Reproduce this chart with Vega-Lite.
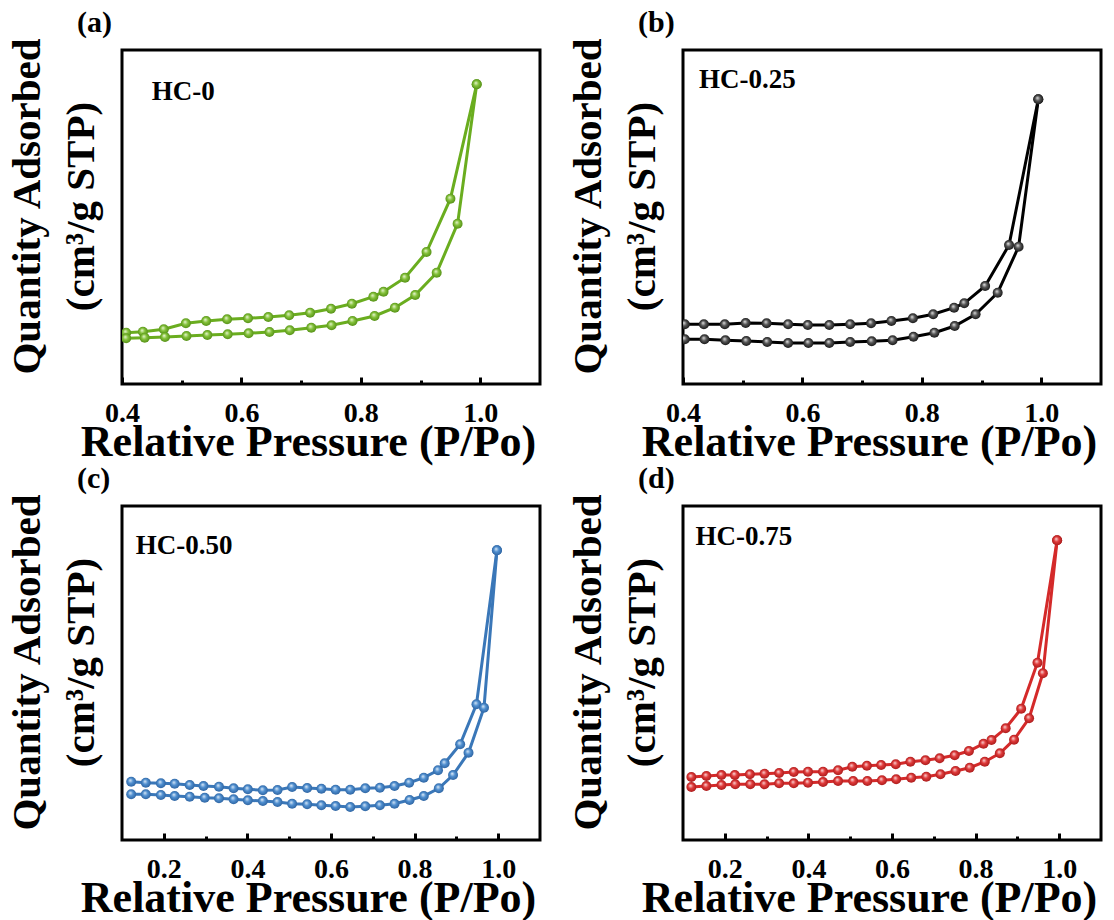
{
"$schema": "https://vega.github.io/schema/vega-lite/v6.json",
"padding": {"left": 4, "top": 6, "right": 5, "bottom": 5},
"background": "white",
"config": {
  "font": "Liberation Serif",
  "view": {"stroke": "black", "strokeWidth": 3},
  "axis": {"grid": false, "labelFont": "Liberation Serif", "titleFont": "Liberation Serif", "labelFontWeight": "bold", "titleFontWeight": "bold", "labelColor": "black", "titleColor": "black"},
  "axisX": {"tickWidth": 3, "tickColor": "black", "domain": false, "labelFontSize": 28, "labelPadding": 22, "labelFlush": false, "labelOverlap": false, "titleFontSize": 44, "titlePadding": -10, "titleX": 186, "labelExpr": "round(datum.value*10) % 2 === 0 ? format(datum.value, '.1f') : ''"},
  "axisY": {"labels": false, "ticks": false, "domain": false, "titleFontSize": 41, "titlePadding": 20, "titleLineHeight": 54, "titleY": 156},
  "title": {"font": "Liberation Serif", "fontWeight": "bold", "fontSize": 30, "anchor": "start", "frame": "group", "dx": -45, "offset": -1, "color": "black"}
},
"datasets": {
  "iso": [
    {"panel":"a","branch":"des","x":0.407,"y":51.3},{"panel":"a","branch":"des","x":0.435,"y":52.3},{"panel":"a","branch":"des","x":0.470,"y":54.7},{"panel":"a","branch":"des","x":0.507,"y":60.7},{"panel":"a","branch":"des","x":0.541,"y":63},{"panel":"a","branch":"des","x":0.576,"y":64.7},{"panel":"a","branch":"des","x":0.611,"y":65.7},{"panel":"a","branch":"des","x":0.645,"y":67},{"panel":"a","branch":"des","x":0.680,"y":68.7},{"panel":"a","branch":"des","x":0.715,"y":71.3},{"panel":"a","branch":"des","x":0.750,"y":75.3},{"panel":"a","branch":"des","x":0.785,"y":80.3},{"panel":"a","branch":"des","x":0.821,"y":87.3},{"panel":"a","branch":"des","x":0.838,"y":92.3},{"panel":"a","branch":"des","x":0.874,"y":106.3},{"panel":"a","branch":"des","x":0.910,"y":132},{"panel":"a","branch":"des","x":0.950,"y":185.3},{"panel":"a","branch":"des","x":0.994,"y":299.7},
    {"panel":"a","branch":"ads","x":0.407,"y":45.7},{"panel":"a","branch":"ads","x":0.438,"y":46.3},{"panel":"a","branch":"ads","x":0.472,"y":47},{"panel":"a","branch":"ads","x":0.508,"y":48},{"panel":"a","branch":"ads","x":0.543,"y":49},{"panel":"a","branch":"ads","x":0.577,"y":49.7},{"panel":"a","branch":"ads","x":0.612,"y":50.7},{"panel":"a","branch":"ads","x":0.647,"y":52},{"panel":"a","branch":"ads","x":0.681,"y":53.7},{"panel":"a","branch":"ads","x":0.717,"y":56.3},{"panel":"a","branch":"ads","x":0.751,"y":58.7},{"panel":"a","branch":"ads","x":0.786,"y":63},{"panel":"a","branch":"ads","x":0.823,"y":68},{"panel":"a","branch":"ads","x":0.857,"y":76.3},{"panel":"a","branch":"ads","x":0.891,"y":89},{"panel":"a","branch":"ads","x":0.927,"y":111.3},{"panel":"a","branch":"ads","x":0.962,"y":160.3},{"panel":"a","branch":"ads","x":0.994,"y":299.7},
    {"panel":"b","branch":"des","x":0.403,"y":59.7},{"panel":"b","branch":"des","x":0.435,"y":59.7},{"panel":"b","branch":"des","x":0.470,"y":59.7},{"panel":"b","branch":"des","x":0.505,"y":61},{"panel":"b","branch":"des","x":0.540,"y":60.7},{"panel":"b","branch":"des","x":0.576,"y":59.7},{"panel":"b","branch":"des","x":0.609,"y":59},{"panel":"b","branch":"des","x":0.645,"y":59},{"panel":"b","branch":"des","x":0.680,"y":59.7},{"panel":"b","branch":"des","x":0.715,"y":60.7},{"panel":"b","branch":"des","x":0.749,"y":63},{"panel":"b","branch":"des","x":0.785,"y":65.7},{"panel":"b","branch":"des","x":0.819,"y":69.7},{"panel":"b","branch":"des","x":0.854,"y":76.3},{"panel":"b","branch":"des","x":0.871,"y":80.7},{"panel":"b","branch":"des","x":0.906,"y":98},{"panel":"b","branch":"des","x":0.946,"y":139},{"panel":"b","branch":"des","x":0.995,"y":284.7},
    {"panel":"b","branch":"ads","x":0.403,"y":44.7},{"panel":"b","branch":"ads","x":0.436,"y":44.7},{"panel":"b","branch":"ads","x":0.471,"y":43.7},{"panel":"b","branch":"ads","x":0.506,"y":43},{"panel":"b","branch":"ads","x":0.541,"y":42},{"panel":"b","branch":"ads","x":0.576,"y":41},{"panel":"b","branch":"ads","x":0.610,"y":41},{"panel":"b","branch":"ads","x":0.645,"y":41},{"panel":"b","branch":"ads","x":0.680,"y":42},{"panel":"b","branch":"ads","x":0.716,"y":42.7},{"panel":"b","branch":"ads","x":0.751,"y":43.7},{"panel":"b","branch":"ads","x":0.786,"y":47.3},{"panel":"b","branch":"ads","x":0.821,"y":51.3},{"panel":"b","branch":"ads","x":0.855,"y":58},{"panel":"b","branch":"ads","x":0.890,"y":69.7},{"panel":"b","branch":"ads","x":0.927,"y":91.3},{"panel":"b","branch":"ads","x":0.962,"y":137.3},{"panel":"b","branch":"ads","x":0.995,"y":284.7},
    {"panel":"c","branch":"des","x":0.122,"y":58.3},{"panel":"c","branch":"des","x":0.157,"y":57.3},{"panel":"c","branch":"des","x":0.193,"y":56.7},{"panel":"c","branch":"des","x":0.226,"y":56.3},{"panel":"c","branch":"des","x":0.262,"y":55},{"panel":"c","branch":"des","x":0.295,"y":54},{"panel":"c","branch":"des","x":0.332,"y":53.3},{"panel":"c","branch":"des","x":0.367,"y":51.7},{"panel":"c","branch":"des","x":0.401,"y":50.7},{"panel":"c","branch":"des","x":0.437,"y":49.7},{"panel":"c","branch":"des","x":0.472,"y":50},{"panel":"c","branch":"des","x":0.507,"y":53},{"panel":"c","branch":"des","x":0.543,"y":52},{"panel":"c","branch":"des","x":0.577,"y":51.3},{"panel":"c","branch":"des","x":0.611,"y":50.3},{"panel":"c","branch":"des","x":0.646,"y":50.3},{"panel":"c","branch":"des","x":0.682,"y":51.7},{"panel":"c","branch":"des","x":0.717,"y":52.3},{"panel":"c","branch":"des","x":0.752,"y":54},{"panel":"c","branch":"des","x":0.787,"y":57.3},{"panel":"c","branch":"des","x":0.822,"y":62.3},{"panel":"c","branch":"des","x":0.856,"y":69.7},{"panel":"c","branch":"des","x":0.872,"y":76.7},{"panel":"c","branch":"des","x":0.909,"y":95.7},{"panel":"c","branch":"des","x":0.948,"y":135.7},{"panel":"c","branch":"des","x":0.997,"y":289.7},
    {"panel":"c","branch":"ads","x":0.122,"y":45.7},{"panel":"c","branch":"ads","x":0.157,"y":45.7},{"panel":"c","branch":"ads","x":0.193,"y":45},{"panel":"c","branch":"ads","x":0.226,"y":44},{"panel":"c","branch":"ads","x":0.262,"y":43.3},{"panel":"c","branch":"ads","x":0.298,"y":42.3},{"panel":"c","branch":"ads","x":0.332,"y":41.7},{"panel":"c","branch":"ads","x":0.367,"y":40.7},{"panel":"c","branch":"ads","x":0.401,"y":39.7},{"panel":"c","branch":"ads","x":0.437,"y":39},{"panel":"c","branch":"ads","x":0.472,"y":38},{"panel":"c","branch":"ads","x":0.507,"y":36.3},{"panel":"c","branch":"ads","x":0.543,"y":35.7},{"panel":"c","branch":"ads","x":0.577,"y":34.7},{"panel":"c","branch":"ads","x":0.611,"y":34},{"panel":"c","branch":"ads","x":0.646,"y":33},{"panel":"c","branch":"ads","x":0.682,"y":33.7},{"panel":"c","branch":"ads","x":0.717,"y":34.7},{"panel":"c","branch":"ads","x":0.752,"y":36.3},{"panel":"c","branch":"ads","x":0.788,"y":40},{"panel":"c","branch":"ads","x":0.822,"y":44},{"panel":"c","branch":"ads","x":0.858,"y":51.7},{"panel":"c","branch":"ads","x":0.892,"y":65},{"panel":"c","branch":"ads","x":0.929,"y":87.3},{"panel":"c","branch":"ads","x":0.966,"y":132.3},{"panel":"c","branch":"ads","x":0.997,"y":289.7},
    {"panel":"d","branch":"des","x":0.120,"y":63},{"panel":"d","branch":"des","x":0.156,"y":64},{"panel":"d","branch":"des","x":0.192,"y":65},{"panel":"d","branch":"des","x":0.224,"y":65},{"panel":"d","branch":"des","x":0.260,"y":65.7},{"panel":"d","branch":"des","x":0.295,"y":66.3},{"panel":"d","branch":"des","x":0.330,"y":67},{"panel":"d","branch":"des","x":0.365,"y":68},{"panel":"d","branch":"des","x":0.399,"y":68.3},{"panel":"d","branch":"des","x":0.435,"y":68.3},{"panel":"d","branch":"des","x":0.471,"y":69.7},{"panel":"d","branch":"des","x":0.505,"y":73.3},{"panel":"d","branch":"des","x":0.540,"y":74.3},{"panel":"d","branch":"des","x":0.574,"y":75},{"panel":"d","branch":"des","x":0.609,"y":75.7},{"panel":"d","branch":"des","x":0.644,"y":78.3},{"panel":"d","branch":"des","x":0.680,"y":79.7},{"panel":"d","branch":"des","x":0.714,"y":81.7},{"panel":"d","branch":"des","x":0.750,"y":84.7},{"panel":"d","branch":"des","x":0.784,"y":89},{"panel":"d","branch":"des","x":0.819,"y":96.3},{"panel":"d","branch":"des","x":0.838,"y":100},{"panel":"d","branch":"des","x":0.872,"y":111.7},{"panel":"d","branch":"des","x":0.909,"y":131.3},{"panel":"d","branch":"des","x":0.948,"y":177.3},{"panel":"d","branch":"des","x":0.995,"y":299.7},
    {"panel":"d","branch":"ads","x":0.120,"y":53},{"panel":"d","branch":"ads","x":0.156,"y":54},{"panel":"d","branch":"ads","x":0.192,"y":55},{"panel":"d","branch":"ads","x":0.225,"y":55.7},{"panel":"d","branch":"ads","x":0.261,"y":55.7},{"panel":"d","branch":"ads","x":0.295,"y":55.7},{"panel":"d","branch":"ads","x":0.330,"y":56.7},{"panel":"d","branch":"ads","x":0.365,"y":56.7},{"panel":"d","branch":"ads","x":0.399,"y":57.3},{"panel":"d","branch":"ads","x":0.435,"y":58},{"panel":"d","branch":"ads","x":0.471,"y":59},{"panel":"d","branch":"ads","x":0.507,"y":59},{"panel":"d","branch":"ads","x":0.541,"y":59},{"panel":"d","branch":"ads","x":0.576,"y":59.7},{"panel":"d","branch":"ads","x":0.610,"y":60.7},{"panel":"d","branch":"ads","x":0.646,"y":62.3},{"panel":"d","branch":"ads","x":0.682,"y":63.3},{"panel":"d","branch":"ads","x":0.716,"y":65.7},{"panel":"d","branch":"ads","x":0.752,"y":69},{"panel":"d","branch":"ads","x":0.786,"y":72.3},{"panel":"d","branch":"ads","x":0.822,"y":78.3},{"panel":"d","branch":"ads","x":0.858,"y":86.7},{"panel":"d","branch":"ads","x":0.892,"y":100.3},{"panel":"d","branch":"ads","x":0.928,"y":121.7},{"panel":"d","branch":"ads","x":0.961,"y":166.7},{"panel":"d","branch":"ads","x":0.995,"y":299.7}
  ],
  "labels": [
    {"panel":"a","label":"HC-0"},
    {"panel":"b","label":"HC-0.25"},
    {"panel":"c","label":"HC-0.50"},
    {"panel":"d","label":"HC-0.75"}
  ]
},
"columns": 2,
"spacing": {"row": 122, "column": 143},
"bounds": "flush",
"concat": [
  {
    "title": "(a)",
    "width": 418, "height": 334,
    "layer": [
      {"data": {"name": "iso"}, "transform": [{"filter": "datum.panel === 'a'"}], "mark": {"type": "line", "color": "#6aad1f", "strokeWidth": 3, "clip": true},
       "encoding": {"x": {"field": "x", "type": "quantitative", "scale": {"domain": [0.4, 1.1], "nice": false, "zero": false}, "axis": {"values": [0.4,0.5,0.6,0.7,0.8,0.9,1.0], "tickSize": {"condition": {"test": "round(datum.value*10) % 2 === 0", "value": -7}, "value": -4}, "title": "Relative Pressure (P/Po)"}},
                    "y": {"field": "y", "type": "quantitative", "scale": {"domain": [0, 334], "nice": false}, "axis": {"title": ["Quantity Adsorbed", "(cm³/g STP)"]}},
                    "detail": {"field": "branch"}}},
      {"data": {"name": "iso"}, "transform": [{"filter": "datum.panel === 'a'"}], "mark": {"type": "point", "filled": true, "size": 100, "opacity": 1, "clip": true, "fill": {"gradient": "radial", "x1": 0.4, "y1": 0.35, "r1": 0, "x2": 0.5, "y2": 0.5, "r2": 0.55, "stops": [{"offset": 0, "color": "#eef8dc"}, {"offset": 0.45, "color": "#84c23a"}, {"offset": 1, "color": "#4f8a12"}]}},
       "encoding": {"x": {"field": "x", "type": "quantitative"}, "y": {"field": "y", "type": "quantitative"}}},
      {"data": {"name": "labels"}, "transform": [{"filter": "datum.panel === 'a'"}], "mark": {"type": "text", "align": "left", "baseline": "alphabetic", "fontSize": 27, "fontWeight": "bold", "font": "Liberation Serif", "color": "black"},
       "encoding": {"text": {"field": "label", "type": "nominal"}, "x": {"datum": 0.45, "type": "quantitative"}, "y": {"datum": 284, "type": "quantitative"}}}
    ]
  },
  {
    "title": "(b)",
    "width": 418, "height": 334,
    "layer": [
      {"data": {"name": "iso"}, "transform": [{"filter": "datum.panel === 'b'"}], "mark": {"type": "line", "color": "#000000", "strokeWidth": 3, "clip": true},
       "encoding": {"x": {"field": "x", "type": "quantitative", "scale": {"domain": [0.4, 1.1], "nice": false, "zero": false}, "axis": {"values": [0.4,0.5,0.6,0.7,0.8,0.9,1.0], "tickSize": {"condition": {"test": "round(datum.value*10) % 2 === 0", "value": -7}, "value": -4}, "title": "Relative Pressure (P/Po)"}},
                    "y": {"field": "y", "type": "quantitative", "scale": {"domain": [0, 334], "nice": false}, "axis": {"title": ["Quantity Adsorbed", "(cm³/g STP)"]}},
                    "detail": {"field": "branch"}}},
      {"data": {"name": "iso"}, "transform": [{"filter": "datum.panel === 'b'"}], "mark": {"type": "point", "filled": true, "size": 100, "opacity": 1, "clip": true, "fill": {"gradient": "radial", "x1": 0.4, "y1": 0.35, "r1": 0, "x2": 0.5, "y2": 0.5, "r2": 0.55, "stops": [{"offset": 0, "color": "#e8e8e8"}, {"offset": 0.45, "color": "#555555"}, {"offset": 1, "color": "#111111"}]}},
       "encoding": {"x": {"field": "x", "type": "quantitative"}, "y": {"field": "y", "type": "quantitative"}}},
      {"data": {"name": "labels"}, "transform": [{"filter": "datum.panel === 'b'"}], "mark": {"type": "text", "align": "left", "baseline": "alphabetic", "fontSize": 27, "fontWeight": "bold", "font": "Liberation Serif", "color": "black"},
       "encoding": {"text": {"field": "label", "type": "nominal"}, "x": {"datum": 0.427, "type": "quantitative"}, "y": {"datum": 296, "type": "quantitative"}}}
    ]
  },
  {
    "title": "(c)",
    "width": 418, "height": 334,
    "layer": [
      {"data": {"name": "iso"}, "transform": [{"filter": "datum.panel === 'c'"}], "mark": {"type": "line", "color": "#3a77b8", "strokeWidth": 3, "clip": true},
       "encoding": {"x": {"field": "x", "type": "quantitative", "scale": {"domain": [0.1, 1.1], "nice": false, "zero": false}, "axis": {"values": [0.2,0.3,0.4,0.5,0.6,0.7,0.8,0.9,1.0], "tickSize": {"condition": {"test": "round(datum.value*10) % 2 === 0", "value": -7}, "value": -4}, "title": "Relative Pressure (P/Po)"}},
                    "y": {"field": "y", "type": "quantitative", "scale": {"domain": [0, 334], "nice": false}, "axis": {"title": ["Quantity Adsorbed", "(cm³/g STP)"]}},
                    "detail": {"field": "branch"}}},
      {"data": {"name": "iso"}, "transform": [{"filter": "datum.panel === 'c'"}], "mark": {"type": "point", "filled": true, "size": 100, "opacity": 1, "clip": true, "fill": {"gradient": "radial", "x1": 0.4, "y1": 0.35, "r1": 0, "x2": 0.5, "y2": 0.5, "r2": 0.55, "stops": [{"offset": 0, "color": "#e2eef9"}, {"offset": 0.45, "color": "#4f8fd0"}, {"offset": 1, "color": "#2a5f9c"}]}},
       "encoding": {"x": {"field": "x", "type": "quantitative"}, "y": {"field": "y", "type": "quantitative"}}},
      {"data": {"name": "labels"}, "transform": [{"filter": "datum.panel === 'c'"}], "mark": {"type": "text", "align": "left", "baseline": "alphabetic", "fontSize": 27, "fontWeight": "bold", "font": "Liberation Serif", "color": "black"},
       "encoding": {"text": {"field": "label", "type": "nominal"}, "x": {"datum": 0.133, "type": "quantitative"}, "y": {"datum": 286, "type": "quantitative"}}}
    ]
  },
  {
    "title": "(d)",
    "width": 418, "height": 334,
    "layer": [
      {"data": {"name": "iso"}, "transform": [{"filter": "datum.panel === 'd'"}], "mark": {"type": "line", "color": "#d42a2a", "strokeWidth": 3, "clip": true},
       "encoding": {"x": {"field": "x", "type": "quantitative", "scale": {"domain": [0.1, 1.1], "nice": false, "zero": false}, "axis": {"values": [0.2,0.3,0.4,0.5,0.6,0.7,0.8,0.9,1.0], "tickSize": {"condition": {"test": "round(datum.value*10) % 2 === 0", "value": -7}, "value": -4}, "title": "Relative Pressure (P/Po)"}},
                    "y": {"field": "y", "type": "quantitative", "scale": {"domain": [0, 334], "nice": false}, "axis": {"title": ["Quantity Adsorbed", "(cm³/g STP)"]}},
                    "detail": {"field": "branch"}}},
      {"data": {"name": "iso"}, "transform": [{"filter": "datum.panel === 'd'"}], "mark": {"type": "point", "filled": true, "size": 100, "opacity": 1, "clip": true, "fill": {"gradient": "radial", "x1": 0.4, "y1": 0.35, "r1": 0, "x2": 0.5, "y2": 0.5, "r2": 0.55, "stops": [{"offset": 0, "color": "#fbe0e0"}, {"offset": 0.45, "color": "#e03a3a"}, {"offset": 1, "color": "#a31818"}]}},
       "encoding": {"x": {"field": "x", "type": "quantitative"}, "y": {"field": "y", "type": "quantitative"}}},
      {"data": {"name": "labels"}, "transform": [{"filter": "datum.panel === 'd'"}], "mark": {"type": "text", "align": "left", "baseline": "alphabetic", "fontSize": 27, "fontWeight": "bold", "font": "Liberation Serif", "color": "black"},
       "encoding": {"text": {"field": "label", "type": "nominal"}, "x": {"datum": 0.130, "type": "quantitative"}, "y": {"datum": 295, "type": "quantitative"}}}
    ]
  }
]
}
